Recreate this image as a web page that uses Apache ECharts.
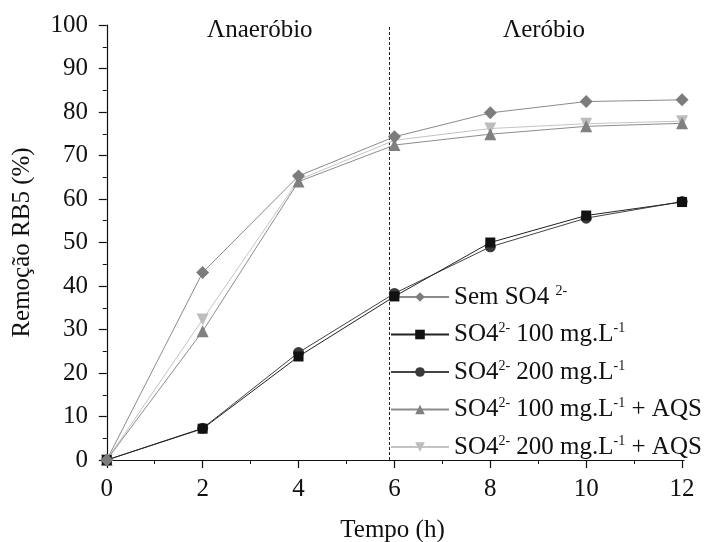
<!DOCTYPE html>
<html>
<head>
<meta charset="utf-8">
<script src="https://cdn.jsdelivr.net/npm/echarts@6/dist/echarts.min.js"></script>
<style>
  html, body { margin: 0; padding: 0; background: #fff; }
  #chart { width: 715px; height: 542px; }
</style>
</head>
<body>
<div id="chart"></div>
<script>
// Sampling times (h)
const tempo = [0, 2, 4, 6, 8, 10, 12];
const xTicks = [0, 2, 4, 6, 8, 10, 12];
const xMinorTicks = [1, 3, 5, 7, 9, 11];
// Time at which the reactor switches from anaerobic to aerobic phase
const faseTroca = 5.9;

// RB5 removal (%) for each condition
const semSO4 = [0, 43.1, 65.3, 74.3, 79.8, 82.4, 82.8];
const so4_100 = [0, 7.2, 23.8, 37.6, 50.0, 56.2, 59.3];
const so4_200 = [0, 7.3, 24.7, 38.3, 49.0, 55.6, 59.4];
const so4_100_aqs = [0, 29.6, 64.0, 72.4, 74.9, 76.7, 77.4];
const so4_200_aqs = [0, 32.3, 64.4, 73.5, 76.2, 77.3, 77.9];

const serif = 'Liberation Serif';

function pairs(vals) { return tempo.map((t, i) => [t, vals[i]]); }

const seriesDefs = [
  { name: 'sem', label: '{n|Sem SO4 }{s|2-}', data: semSO4, symbol: 'diamond', size: 13, color: '#7c7c7c', line: '#8a8a8a' },
  { name: 's100', label: '{n|SO4}{s|2-}{n| 100 mg.L}{s|-1}', data: so4_100, symbol: 'rect', size: 10, color: '#111111', line: '#222222' },
  { name: 's200', label: '{n|SO4}{s|2-}{n| 200 mg.L}{s|-1}', data: so4_200, symbol: 'circle', size: 11, color: '#3a3a3a', line: '#444444' },
  { name: 's100a', label: '{n|SO4}{s|2-}{n| 100 mg.L}{s|-1}{n| + AQS}', data: so4_100_aqs, symbol: 'triangle', size: 12, color: '#808080', line: '#8c8c8c' },
  { name: 's200a', label: '{n|SO4}{s|2-}{n| 200 mg.L}{s|-1}{n| + AQS}', data: so4_200_aqs, symbol: 'path://M0,0 L10,0 L5,9 Z', size: 12, color: '#bdbdbd', line: '#c4c4c4' }
];

const labelMap = {};
seriesDefs.forEach(d => { labelMap[d.name] = d.label; });

const series = seriesDefs.map((d, i) => {
  const s = {
    name: d.name,
    type: 'line',
    data: pairs(d.data),
    symbol: d.symbol,
    symbolSize: d.size,
    itemStyle: { color: d.color },
    lineStyle: { color: d.line, width: 1 },
    z: 10 - i,
    animation: false
  };
  if (i === 0) {
    s.markLine = {
      silent: true,
      symbol: ['none', 'none'],
      label: { show: false },
      lineStyle: { color: '#222', type: [3, 2], width: 1 },
      data: [{ xAxis: faseTroca }]
    };
  }
  return s;
});

const chart = echarts.init(document.getElementById('chart'));
chart.setOption({
  backgroundColor: '#fff',
  animation: false,
  grid: { left: 101, top: 25, right: 31, bottom: 82, containLabel: false, outerBoundsMode: 'none' },
  xAxis: [
    {
      type: 'value',
      min: -0.12,
      max: 12.04,
      name: 'Tempo (h)',
      nameLocation: 'middle',
      nameGap: 58,
      nameTextStyle: { fontFamily: serif, fontSize: 25, color: '#111' },
      axisLine: { lineStyle: { color: '#111', width: 1.2 } },
      axisTick: { show: true, customValues: xTicks, length: 8, lineStyle: { color: '#111', width: 1.2 } },
      axisLabel: { customValues: xTicks, fontFamily: serif, fontSize: 25, color: '#111', margin: 17 },
      splitLine: { show: false }
    },
    {
      type: 'value',
      min: -0.12,
      max: 12.04,
      position: 'bottom',
      axisLine: { show: false },
      axisTick: { show: true, customValues: xMinorTicks, length: 4, lineStyle: { color: '#111', width: 1 } },
      axisLabel: { show: false },
      splitLine: { show: false }
    }
  ],
  yAxis: {
    type: 'value',
    min: 0,
    max: 100,
    interval: 10,
    name: 'Remoção RB5 (%)',
    nameLocation: 'middle',
    nameGap: 66,
    nameTextStyle: { fontFamily: serif, fontSize: 25, color: '#111' },
    axisLine: { show: true, lineStyle: { color: '#111', width: 1.2 } },
    axisTick: { show: true, length: 8, lineStyle: { color: '#111', width: 1.2 } },
    minorTick: { show: true, splitNumber: 2, length: 4, lineStyle: { color: '#111', width: 1 } },
    axisLabel: { fontFamily: serif, fontSize: 25, color: '#111', margin: 13 },
    splitLine: { show: false }
  },
  legend: {
    orient: 'vertical',
    left: 390,
    top: 284,
    padding: 0,
    itemWidth: 58,
    itemHeight: 12,
    itemGap: 12,
    formatter: name => labelMap[name],
    textStyle: {
      fontFamily: serif,
      color: '#111',
      rich: {
        n: { fontFamily: serif, fontSize: 25, lineHeight: 26, color: '#111' },
        s: { fontFamily: serif, fontSize: 14, lineHeight: 14, verticalAlign: 'top', color: '#111' }
      }
    },
    data: seriesDefs.map(d => d.name)
  },
  graphic: [
    { type: 'text', left: 207, top: 18, style: { text: 'Λnaeróbio', font: '25px ' + serif, fill: '#111' } },
    { type: 'text', left: 503, top: 18, style: { text: 'Λeróbio', font: '25px ' + serif, fill: '#111' } }
  ],
  series: series
});
</script>
</body>
</html>
